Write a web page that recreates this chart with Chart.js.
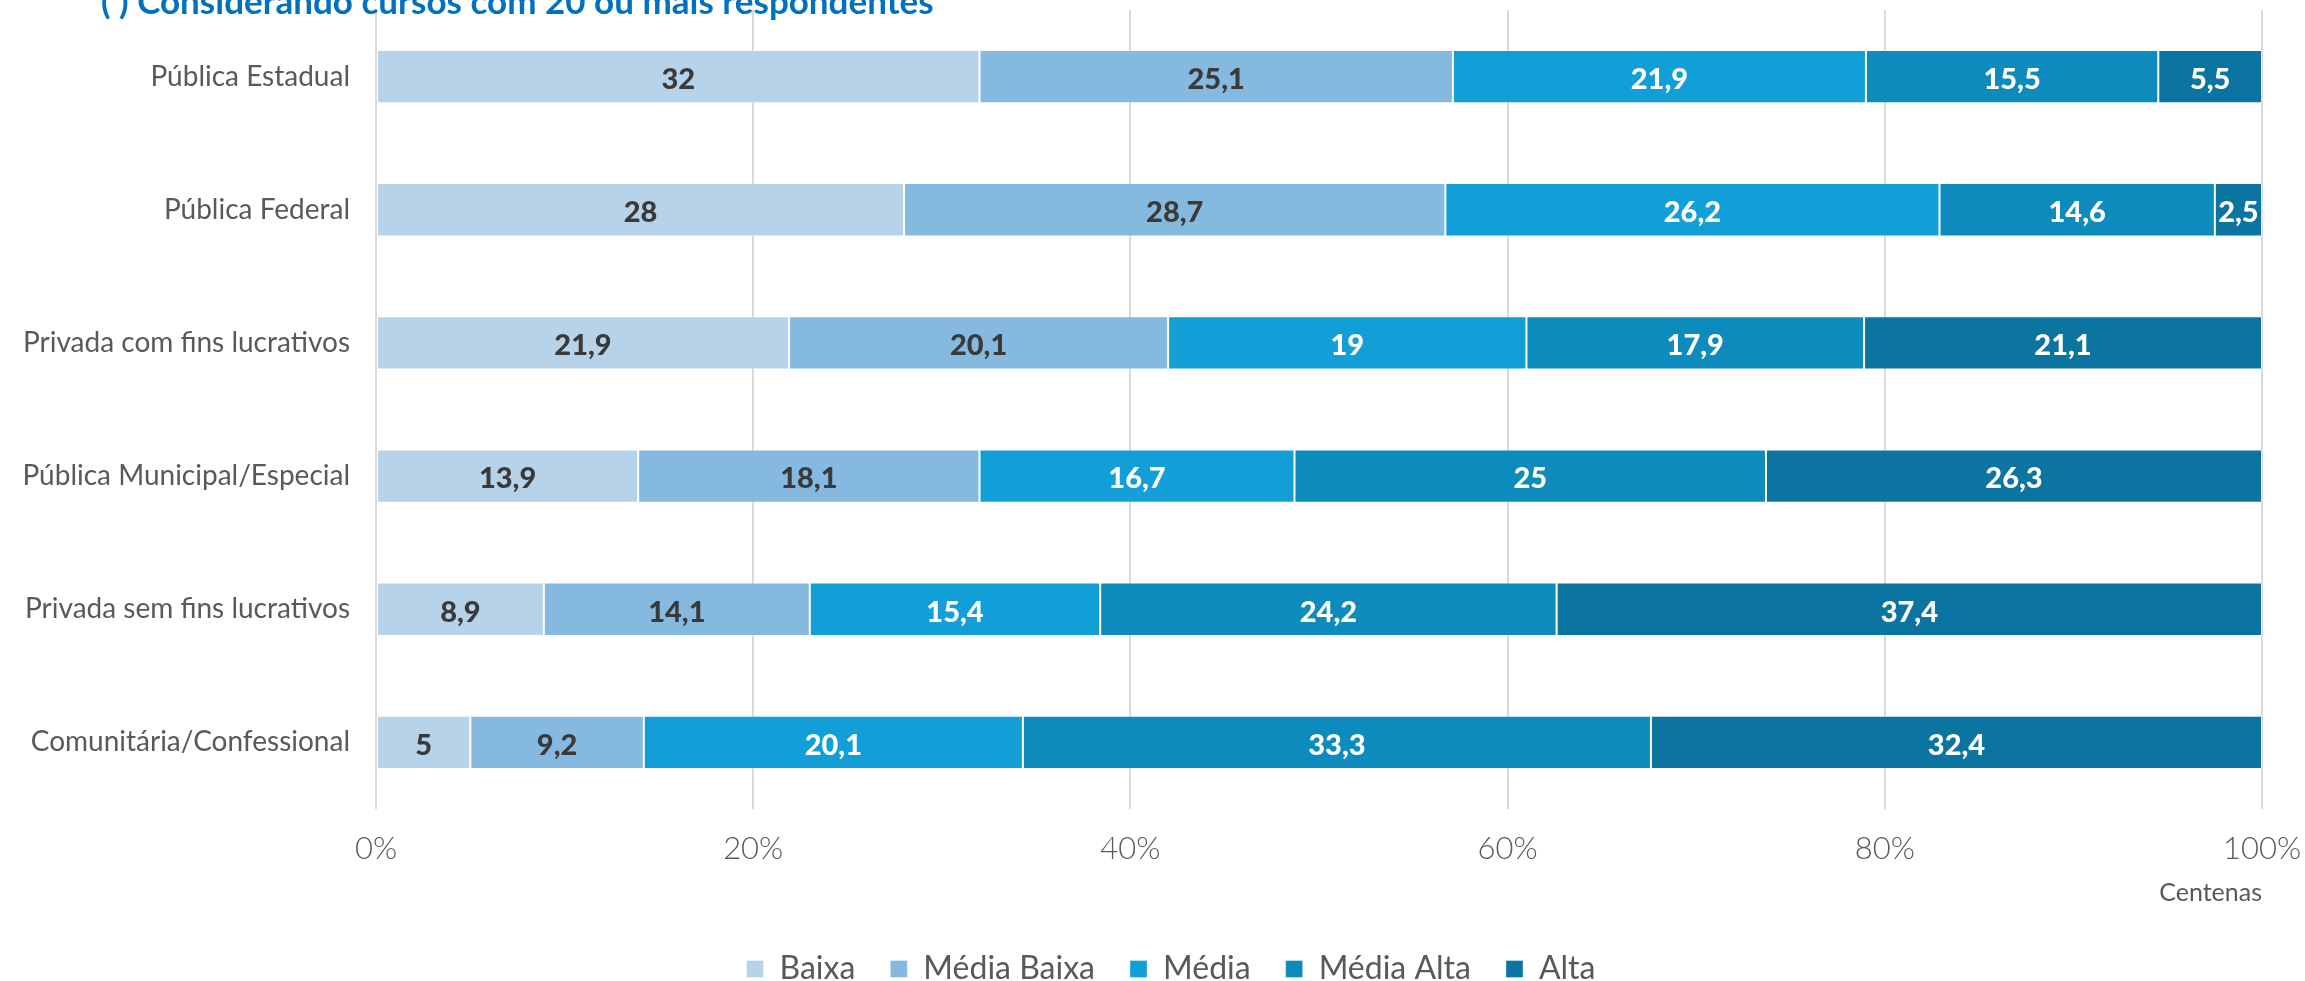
<!DOCTYPE html>
<html>
<head>
<meta charset="utf-8">
<script src="https://cdn.jsdelivr.net/npm/chart.js@4"></script>
<style>
  html, body { margin: 0; padding: 0; background: #ffffff; overflow: hidden; }
  canvas { display: block; }
</style>
</head>
<body>
<canvas id="c" width="2305" height="981"></canvas>
<script>
const titleText = "( ) Considerando cursos com 20 ou mais respondentes";
const categories = [
  "Pública Estadual",
  "Pública Federal",
  "Privada com fins lucrativos",
  "Pública Municipal/Especial",
  "Privada sem fins lucrativos",
  "Comunitária/Confessional"
];
const seriesNames = ["Baixa", "Média Baixa", "Média", "Média Alta", "Alta"];
const baixa      = [32,   28,   21.9, 13.9,  8.9,  5];
const mediaBaixa = [25.1, 28.7, 20.1, 18.1, 14.1,  9.2];
const media      = [21.9, 26.2, 19,   16.7, 15.4, 20.1];
const mediaAlta  = [15.5, 14.6, 17.9, 25,   24.2, 33.3];
const alta       = [5.5,  2.5,  21.1, 26.3, 37.4, 32.4];
const tickValues = [0, 20, 40, 60, 80, 100];
const axisTitle = "Centenas";

const colors = ["#b6d3ea", "#85b9e0", "#129fd8", "#0e8bbd", "#0b74a0"];
const labelColors = ["#3a3a3a", "#3a3a3a", "#ffffff", "#ffffff", "#ffffff"];
const seriesValues = [baixa, mediaBaixa, media, mediaAlta, alta];

const datasets = seriesNames.map((name, i) => ({
  label: name,
  data: seriesValues[i],
  backgroundColor: colors[i],
  borderColor: "rgba(255,255,255,0.35)",
  borderWidth: 1,
  borderSkipped: false,
  categoryPercentage: 1,
  barPercentage: 0.4
}));

const valueLabels = {
  id: "valueLabels",
  afterDatasetsDraw(chart) {
    const ctx = chart.ctx;
    ctx.save();
    ctx.font = "900 29px Lato";
    ctx.textAlign = "center";
    ctx.textBaseline = "middle";
    chart.data.datasets.forEach((ds, di) => {
      const meta = chart.getDatasetMeta(di);
      meta.data.forEach((el, j) => {
        const v = ds.data[j];
        const cx = (el.x + el.base) / 2;
        ctx.fillStyle = labelColors[di];
        ctx.fillText(String(v).replace(".", ","), cx, el.y + 3);
      });
    });
    ctx.restore();
  }
};

const topTitle = {
  id: "topTitle",
  afterDraw(chart) {
    const ctx = chart.ctx;
    ctx.save();
    ctx.font = "bold 35px Lato";
    ctx.fillStyle = "#0070c0";
    ctx.textAlign = "left";
    ctx.textBaseline = "alphabetic";
    ctx.fillText(titleText, 101, 14);
    ctx.restore();
  }
};

// fix the legend box height and shift so the legend row sits where it does in the reference
const legendPlace = {
  id: "legendPlace",
  afterInit(chart) {
    const lg = chart.legend;
    if (lg && !lg._wrapped) {
      const orig = lg.fit.bind(lg);
      lg.fit = function () {
        orig();
        this.height = 63;
        this.minSize = { width: this.width, height: 63 };
      };
      lg._wrapped = true;
    }
  },
  afterLayout(chart) {
    const lg = chart.legend;
    if (lg) { lg.left += 40; lg.right += 40; }
  }
};

new Chart(document.getElementById("c"), {
  type: "bar",
  data: { labels: categories, datasets },
  plugins: [valueLabels, topTitle, legendPlace],
  options: {
    indexAxis: "y",
    responsive: false,
    animation: false,
    layout: { padding: { top: 10, right: 43, left: 0, bottom: 0 } },
    scales: {
      x: {
        stacked: true,
        min: 0,
        max: 100,
        afterBuildTicks(scale) { scale.ticks = tickValues.map(v => ({ value: v })); },
        afterFit(scale) {
          scale.height = 109;
          scale.paddingLeft = 0;
          scale.paddingRight = 0;
        },
        ticks: {
          callback: v => v + "%",
          color: "#595959",
          font: { family: "Lato", size: 31, weight: "300" },
          padding: 21,
          maxRotation: 0
        },
        grid: { color: "#d9d9d9", lineWidth: 2, drawTicks: false },
        border: { display: false },
        title: {
          display: true,
          text: axisTitle,
          align: "end",
          color: "#595959",
          font: { family: "Lato", size: 25 },
          padding: { top: 0, bottom: 10 }
        }
      },
      y: {
        stacked: true,
        afterFit(scale) {
          scale.width = 376;
          scale.paddingTop = 0;
          scale.paddingBottom = 0;
        },
        ticks: {
          color: "#595959",
          font: { family: "Lato", size: 28 },
          padding: 26
        },
        grid: { display: false, drawTicks: false },
        border: { display: false }
      }
    },
    plugins: {
      legend: {
        position: "bottom",
        labels: {
          boxWidth: 17,
          boxHeight: 17,
          padding: 35,
          color: "#595959",
          font: { family: "Lato", size: 32 }
        }
      },
      tooltip: { enabled: false }
    }
  }
});
</script>
</body>
</html>
